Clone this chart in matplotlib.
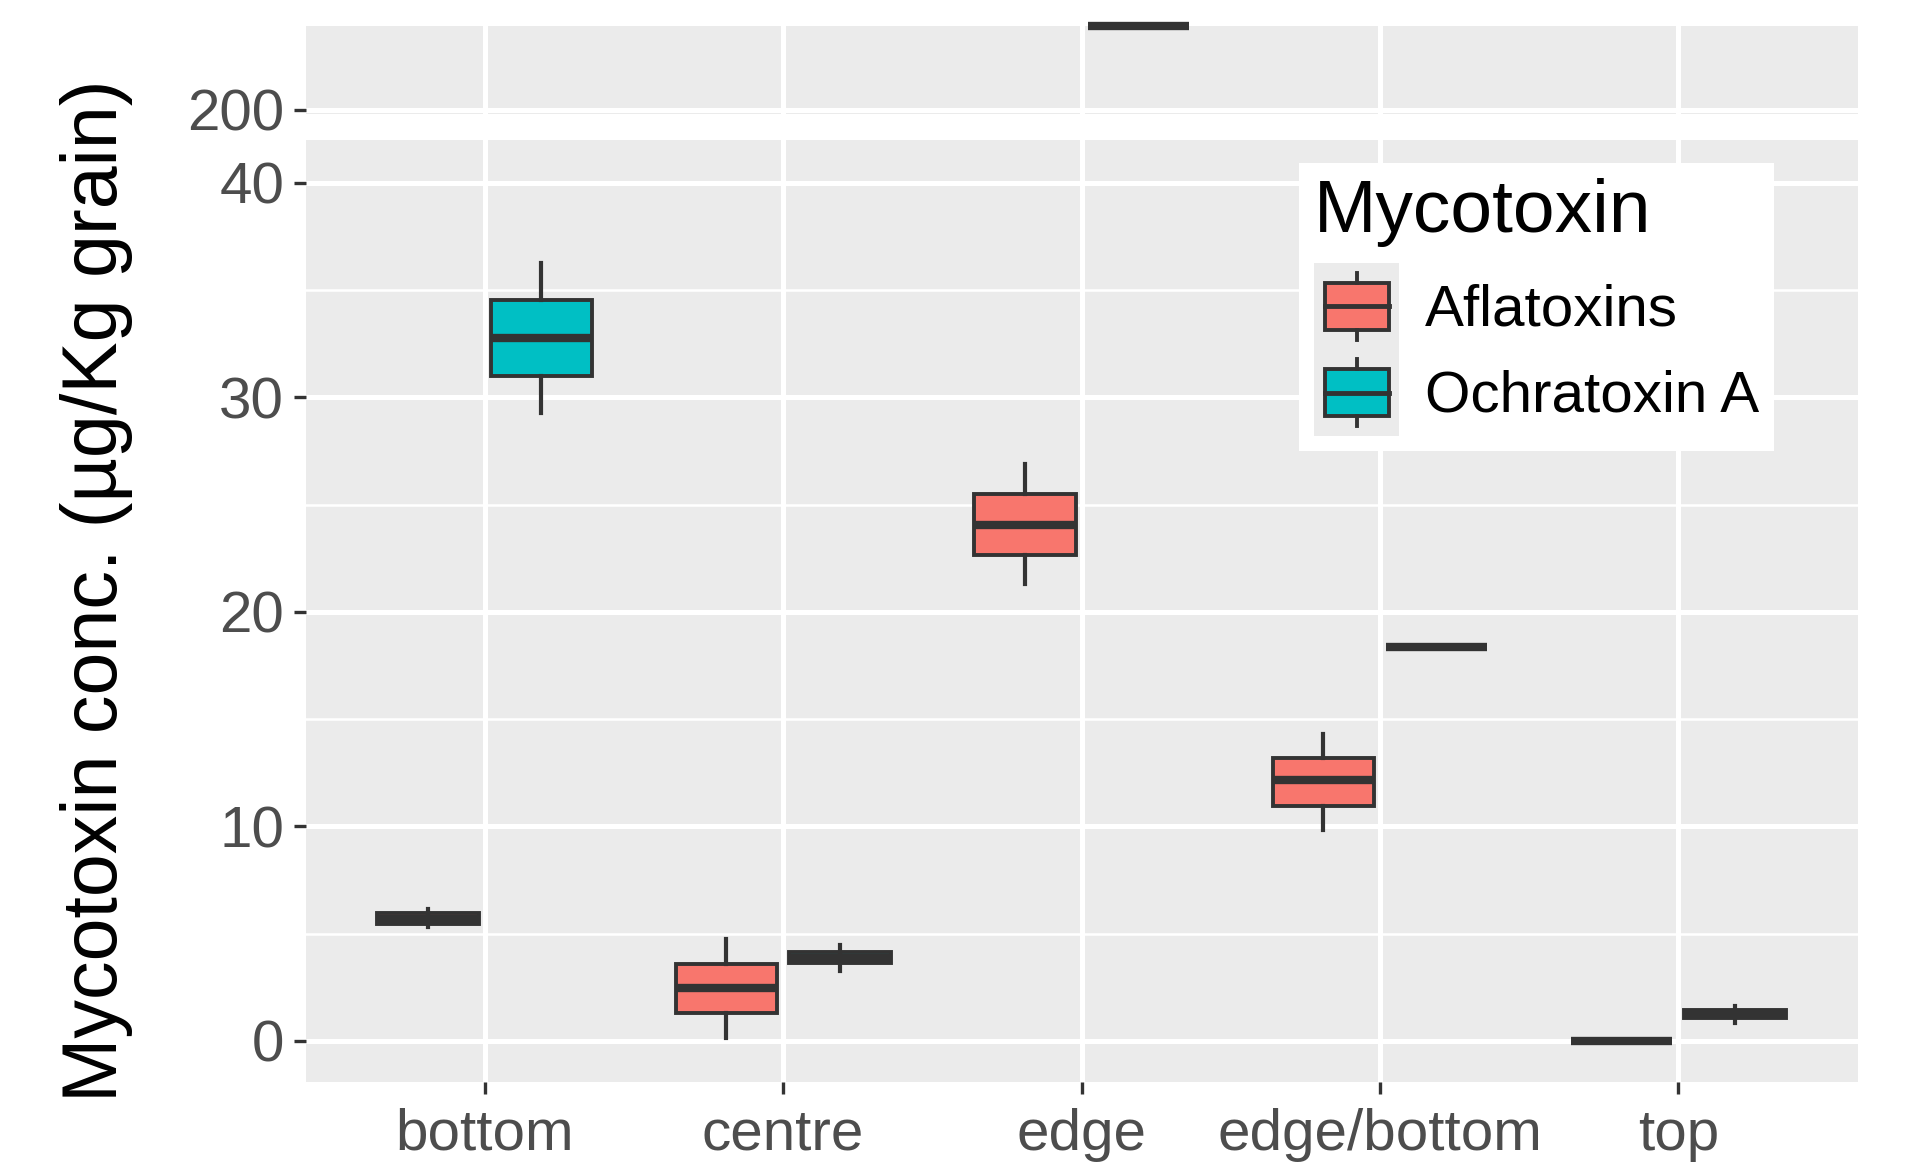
# Mycotoxin concentration by grain-store location, boxplots with a broken y axis
import matplotlib
matplotlib.use('Agg')
import matplotlib.pyplot as plt
import matplotlib.patches as mpatches
from matplotlib.lines import Line2D
from matplotlib.legend_handler import HandlerBase

plt.rcParams['font.family'] = ['Liberation Sans', 'DejaVu Sans']

# DATA
locations = ['bottom', 'centre', 'edge', 'edge/bottom', 'top']
toxins = ['Aflatoxins', 'Ochratoxin A']

afla_whislo = [5.30, 0.15, 21.30, 9.85, 0.0]
afla_q1 = [5.45, 1.29, 22.66, 10.95, 0.0]
afla_med = [5.70, 2.44, 24.07, 12.15, 0.0]
afla_q3 = [5.95, 3.58, 25.49, 13.18, 0.0]
afla_whishi = [6.14, 4.74, 26.89, 14.30, 0.0]

ochra_whislo = [29.26, 3.26, 203.9, 18.38, 0.85]
ochra_q1 = [31.00, 3.62, 203.9, 18.38, 1.05]
ochra_med = [32.79, 3.87, 203.9, 18.38, 1.25]
ochra_q3 = [34.52, 4.12, 203.9, 18.38, 1.45]
ochra_whishi = [36.26, 4.48, 203.9, 18.38, 1.63]

# axis break
break_lo = 40
low_lim = (-1.92, 42.0)
high_lim = (199.79, 203.9)
low_ticks = [0, 10, 20, 30, 40]
low_minor = [5, 15, 25, 35]
high_ticks = [200]

# STYLE
colors = ['#F8766D', '#00BFC4']
outline = '#333333'
panel_bg = '#EBEBEB'
tick_col = '#4D4D4D'
dodge = 0.19
box_w = 0.34


def make_stats(lo, q1, med, q3, hi):
    return [dict(whislo=a, q1=b, med=c, q3=d, whishi=e, fliers=[])
            for a, b, c, d, e in zip(lo, q1, med, q3, hi)]


series = [make_stats(afla_whislo, afla_q1, afla_med, afla_q3, afla_whishi),
          make_stats(ochra_whislo, ochra_q1, ochra_med, ochra_q3, ochra_whishi)]


class HandlerBox(HandlerBase):
    # ggplot-like boxplot legend key
    def create_artists(self, legend, orig_handle, xdescent, ydescent,
                       width, height, fontsize, trans):
        x0, y0 = -xdescent, -ydescent
        bg = mpatches.Rectangle((x0, y0), width, height, facecolor='#EBEBEB',
                                edgecolor='none', transform=trans)
        bx = mpatches.Rectangle((x0 + 0.13 * width, y0 + 0.23 * height),
                                0.76 * width, 0.54 * height,
                                facecolor=orig_handle.get_facecolor(),
                                edgecolor=outline, lw=2.8, transform=trans)
        xm = x0 + 0.51 * width
        med = Line2D([x0 + 0.13 * width, x0 + 0.89 * width],
                     [y0 + 0.5 * height] * 2, color=outline, lw=3.5,
                     transform=trans)
        w1 = Line2D([xm, xm], [y0 + 0.11 * height, y0 + 0.23 * height],
                    color=outline, lw=2.8, transform=trans)
        w2 = Line2D([xm, xm], [y0 + 0.77 * height, y0 + 0.89 * height],
                    color=outline, lw=2.8, transform=trans)
        return [bg, bx, med, w1, w2]


fig = plt.figure(figsize=(19.25, 11.72), dpi=100)
W, H = 1925, 1172
left, right = 305.7, 1857.5
ax_hi = fig.add_axes([left / W, 1 - 114 / H, (right - left) / W, 88 / H])
ax_lo = fig.add_axes([left / W, 1 - 1082 / H, (right - left) / W, 942 / H])

pos = list(range(len(locations)))
for ax, high in [(ax_hi, True), (ax_lo, False)]:
    ax.set_facecolor(panel_bg)
    for s in ax.spines.values():
        s.set_visible(False)
    for k, stats in enumerate(series):
        off = -dodge if k == 0 else dodge
        keep = [i for i, st in enumerate(stats) if (st['med'] > break_lo) == high]
        if not keep:
            continue
        arts = ax.bxp([stats[i] for i in keep], positions=[pos[i] + off for i in keep],
                      widths=box_w, patch_artist=True, showfliers=False,
                      showcaps=False, manage_ticks=False,
                      boxprops=dict(facecolor=colors[k], edgecolor=outline, linewidth=2.8),
                      medianprops=dict(color=outline, linewidth=6.0, solid_capstyle='butt'),
                      whiskerprops=dict(color=outline, linewidth=3.0))
        if high:
            for group in arts.values():
                for a in group:
                    a.set_clip_on(False)
    ax.set_xlim(-0.6, 4.6)
    ax.set_xticks(pos)
    ax.set_axisbelow(True)
    ax.grid(which='major', color='white', linewidth=3.6)
    ax.tick_params(axis='both', which='major', length=8.6, width=2.4,
                   color=outline, labelsize=42, labelcolor=tick_col, pad=7)
    ax.tick_params(axis='y', which='minor', length=0)

ax_hi.set_ylim(*high_lim)
ax_hi.set_yticks(high_ticks)
ax_hi.tick_params(axis='x', bottom=False, labelbottom=False)

ax_lo.set_ylim(*low_lim)
ax_lo.set_yticks(low_ticks)
ax_lo.set_yticks(low_minor, minor=True)
ax_lo.grid(which='minor', axis='y', color='white', linewidth=1.8)
ax_lo.set_xticklabels(locations)
ax_lo.tick_params(axis='x', pad=10)

fig.text(97 / W, 0.4957, 'Mycotoxin conc. (µg/Kg grain)', rotation=90,
         ha='center', va='center', fontsize=55.5, color='black')

handles = [mpatches.Patch(facecolor=c) for c in colors]
leg = fig.legend(handles, toxins, handler_map={mpatches.Patch: HandlerBox()},
                 title='Mycotoxin', loc='upper left',
                 bbox_to_anchor=(1299 / W, 1 - 163 / H), fontsize=42,
                 title_fontsize=54, frameon=True, fancybox=False,
                 handlelength=1.46, handleheight=1.9, labelspacing=0.0,
                 handletextpad=0.45, borderpad=0.25, borderaxespad=0,
                 alignment='left')
leg._legend_box.sep = 12
leg.get_frame().set_facecolor('white')
leg.get_frame().set_edgecolor('none')
leg.get_frame().set_alpha(1)

fig.savefig('out.png', dpi=100, facecolor='white')
